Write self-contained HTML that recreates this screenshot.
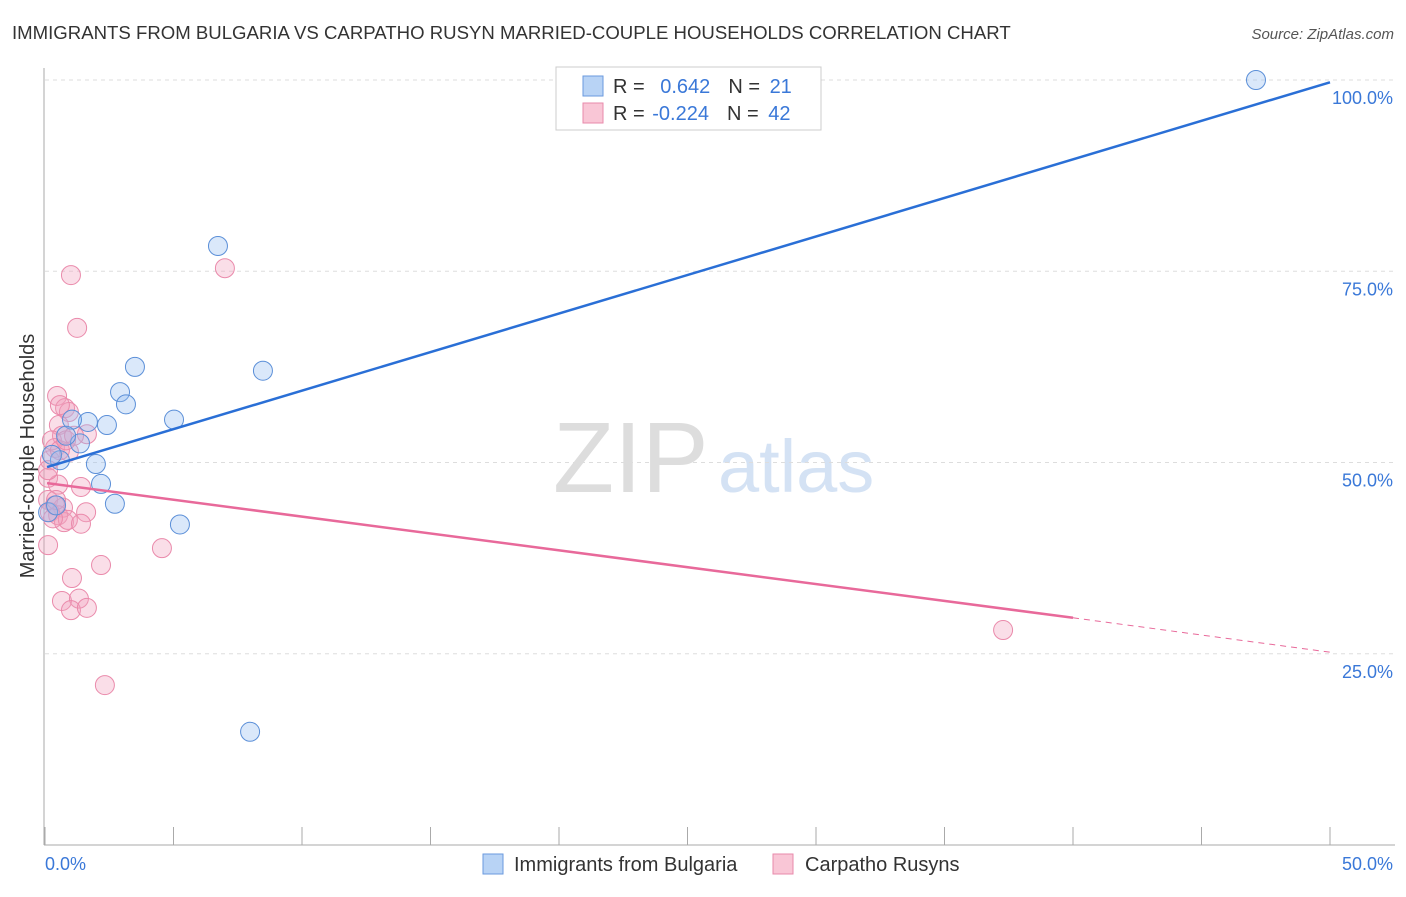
<!DOCTYPE html>
<html><head><meta charset="utf-8"><style>
body{margin:0;background:#fff;font-family:"Liberation Sans",sans-serif;}
svg text{font-family:"Liberation Sans",sans-serif;}
</style></head><body>
<svg width="1406" height="892" id="c">
<text x="12" y="39" font-size="18.6" fill="#333">IMMIGRANTS FROM BULGARIA VS CARPATHO RUSYN MARRIED-COUPLE HOUSEHOLDS CORRELATION CHART</text>
<text x="1394" y="39" font-size="15" fill="#555" text-anchor="end" font-style="italic">Source: ZipAtlas.com</text>
<text x="34" y="456" font-size="20" fill="#333" text-anchor="middle" transform="rotate(-90 34 456)">Married-couple Households</text>
<text x="553" y="492" font-size="100" fill="#ddd" font-family="Liberation Serif">ZIP</text>
<text x="718" y="492" font-size="74" fill="#d4e2f4">atlas</text>
<g id="grid"></g><g id="axes"></g><g id="pts"></g><g id="lines"></g>
<g>
<rect x="556" y="67" width="265" height="63" fill="#fff" stroke="#ccc"/>
<rect x="583" y="76" width="20" height="20" fill="#b8d3f5" stroke="#6a9ade"/>
<rect x="583" y="103" width="20" height="20" fill="#f9c6d6" stroke="#e88aab"/>
<text x="613" y="93" font-size="20" fill="#333">R = <tspan fill="#3a78d8" dx="10">0.642</tspan><tspan dx="18">N = </tspan><tspan fill="#3a78d8" dx="4">21</tspan></text>
<text x="613" y="120" font-size="20" fill="#333">R = <tspan fill="#3a78d8" dx="2">-0.224</tspan><tspan dx="18">N = </tspan><tspan fill="#3a78d8" dx="4">42</tspan></text>
</g>
<g>
<rect x="483" y="854" width="20" height="20" fill="#b8d3f5" stroke="#6a9ade"/>
<text x="514" y="871" font-size="20" fill="#333">Immigrants from Bulgaria</text>
<rect x="773" y="854" width="20" height="20" fill="#f9c6d6" stroke="#e88aab"/>
<text x="805" y="871" font-size="20" fill="#333">Carpatho Rusyns</text>
</g>
</svg>
<script>
const blueX=[47.12,6.73,3.50,8.48,2.92,3.15,5.02,1.67,2.41,1.05,1.36,0.82,0.58,1.98,2.18,2.72,5.25,7.98,0.12,0.27,0.43];
const blueY=[100,78.3,62.5,62.0,59.2,57.6,55.6,55.3,54.9,55.6,52.5,53.5,50.3,49.8,47.2,44.6,41.9,14.8,43.5,51.0,44.4];
const pinkX=[1.01,7.00,1.25,0.47,0.78,0.93,0.54,1.63,0.66,0.39,0.93,0.19,0.12,0.51,1.40,0.12,0.39,0.70,0.19,0.51,1.60,0.74,0.89,1.40,0.12,4.55,2.18,1.05,0.66,1.32,1.01,1.63,2.33,37.28,0.58,0.27,0.12,0.31,0.58,0.82,1.13,0.43];
const pinkY=[74.5,75.4,67.6,58.7,57.1,56.6,54.9,53.7,53.5,51.9,51.4,50.3,48.0,47.1,46.8,45.1,44.4,44.1,43.5,43.1,43.5,42.2,42.5,42.0,39.2,38.8,36.6,34.9,31.9,32.2,30.7,31.0,20.9,28.1,57.5,52.9,49.0,42.7,51.6,52.9,53.5,45.1];
const yTicks=[25,50,75,100];
const blueTrend=[[0.08,49.4],[50,99.7]];
const pinkTrend=[[0.08,47.3],[40,29.7],[50,25.2]];
const NS='http://www.w3.org/2000/svg';
const sx=v=>45+v*25.7, sy=v=>845-v*7.65;
function mk(t,a,p){const e=document.createElementNS(NS,t);for(const k in a)e.setAttribute(k,a[k]);document.getElementById(p).appendChild(e);return e;}
yTicks.forEach(t=>{
 const l=mk('line',{x1:45,x2:1395,y1:sy(t),y2:sy(t),stroke:'#ddd','stroke-dasharray':'4,4'},'grid');
 
 
 const tx=mk('text',{x:1393,y:sy(t)+24,'font-size':18,fill:'#3a78d8','text-anchor':'end'},'grid');
 tx.textContent=t.toFixed(1)+'%';
 
 
});
mk('line',{x1:44,x2:44,y1:68,y2:845,stroke:'#aaa'},'axes');
mk('line',{x1:44,x2:1395,y1:845,y2:845,stroke:'#aaa'},'axes');
for(let i=0;i<=10;i++){const x=sx(i*5);mk('line',{x1:x,x2:x,y1:827,y2:845,stroke:'#aaa'},'axes');}
let a=mk('text',{x:45,y:870,'font-size':18,fill:'#3a78d8'},'axes');a.textContent='0.0%';


a=mk('text',{x:1393,y:870,'font-size':18,fill:'#3a78d8','text-anchor':'end'},'axes');a.textContent='50.0%';


pinkX.forEach((x,i)=>{const c=mk('circle',{cx:sx(x),cy:sy(pinkY[i]),r:9.5,fill:'rgba(242,160,188,0.35)',stroke:'#ea8aab','stroke-width':1},'pts');
 
 });
blueX.forEach((x,i)=>{const c=mk('circle',{cx:sx(x),cy:sy(blueY[i]),r:9.5,fill:'rgba(150,190,240,0.35)',stroke:'#5b8fd8','stroke-width':1},'pts');
 
 });
let l=mk('line',{x1:sx(blueTrend[0][0]),y1:sy(blueTrend[0][1]),x2:sx(blueTrend[1][0]),y2:sy(blueTrend[1][1]),stroke:'#2a6fd6','stroke-width':2.5},'lines');


l=mk('line',{x1:sx(pinkTrend[0][0]),y1:sy(pinkTrend[0][1]),x2:sx(pinkTrend[1][0]),y2:sy(pinkTrend[1][1]),stroke:'#e8699a','stroke-width':2.5},'lines');


l=mk('line',{x1:sx(pinkTrend[1][0]),y1:sy(pinkTrend[1][1]),x2:sx(pinkTrend[2][0]),y2:sy(pinkTrend[2][1]),stroke:'#e8699a','stroke-width':1,'stroke-dasharray':'6,5'},'lines');


</script>
</body></html>
